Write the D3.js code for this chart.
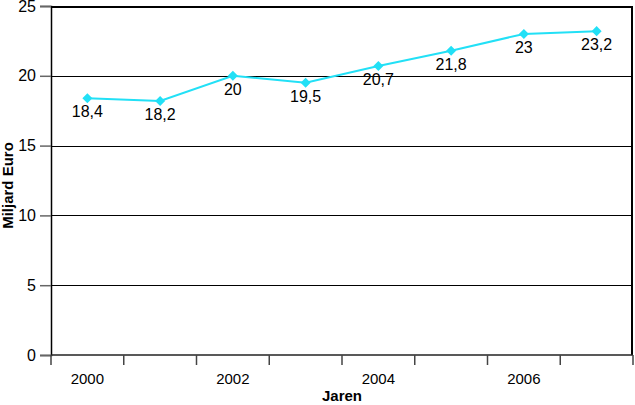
<!DOCTYPE html>
<html>
<head>
<meta charset="utf-8">
<script src="https://cdn.jsdelivr.net/npm/d3@7"></script>
<style>
  body { margin: 0; background: #fff; }
  text { font-family: "Liberation Sans", Arial, sans-serif; fill: #000; }
</style>
</head>
<body>
<div id="chart"></div>
<script>
const years = [2000, 2001, 2002, 2003, 2004, 2005, 2006, 2007];
const values = [18.4, 18.2, 20, 19.5, 20.7, 21.8, 23, 23.2];
const labels = ["18,4", "18,2", "20", "19,5", "20,7", "21,8", "23", "23,2"];
const yTicks = [0, 5, 10, 15, 20, 25];
const xTickLabels = [2000, 2002, 2004, 2006];

const margin = { top: 6, right: 2, bottom: 50, left: 51 };
const W = 635, H = 405;
const width = W - margin.left - margin.right;
const height = H - margin.top - margin.bottom;

const svg = d3.select("#chart").append("svg")
  .attr("width", W).attr("height", H);
const g = svg.append("g").attr("transform", `translate(${margin.left},${margin.top})`);

const x = d3.scaleBand().domain(years).range([0, width]);
const y = d3.scaleLinear().domain([0, 25]).range([height, 0]);

// gridlines
g.selectAll(".grid").data(yTicks.filter(d => d > 0)).enter().append("line")
  .attr("x1", 0).attr("x2", width)
  .attr("y1", d => y(d) + 0.5).attr("y2", d => y(d) + 0.5)
  .attr("stroke", "#000")
  .attr("shape-rendering", "crispEdges")
  .attr("stroke-width", d => d === 25 ? 2 : 1);

// right border
g.append("line").attr("x1", width - 1).attr("x2", width - 1)
  .attr("y1", y(25)).attr("y2", height)
  .attr("stroke", "#000").attr("stroke-width", 2);

// y axis
const yAxis = g.append("g")
  .call(d3.axisLeft(y).tickValues(yTicks).tickSize(11).tickPadding(4));
yAxis.select(".domain").attr("stroke", "#000").attr("stroke-width", 1.5);
yAxis.selectAll(".tick line").attr("stroke", "#666").attr("stroke-width", 1.5);
yAxis.selectAll("text").style("font-size", "16px");

// x axis: ticks at band boundaries
const bounds = years.map(d => x(d)).concat([width]);
const xAxis = g.append("g").attr("transform", `translate(0,${height})`);
xAxis.append("line").attr("x1", 0).attr("x2", width)
  .attr("stroke", "#222").attr("stroke-width", 1.5);
xAxis.selectAll(".tk").data(bounds).enter().append("line")
  .attr("x1", d => d).attr("x2", d => d)
  .attr("y1", 0).attr("y2", 10)
  .attr("stroke", "#444").attr("stroke-width", 1.5);
xAxis.selectAll(".lbl").data(xTickLabels).enter().append("text")
  .attr("x", d => x(d) + x.bandwidth() / 2)
  .attr("y", 29)
  .attr("text-anchor", "middle")
  .style("font-size", "15px")
  .text(d => d);

// line
const line = d3.line()
  .x((d, i) => x(years[i]) + x.bandwidth() / 2)
  .y(d => y(d));
g.append("path").datum(values)
  .attr("d", line)
  .attr("fill", "none")
  .attr("stroke", "#22e0f6")
  .attr("stroke-width", 2);

g.selectAll(".pt").data(values).enter().append("path")
  .attr("d", d3.symbol().type(d3.symbolDiamond2).size(64))
  .attr("transform", (d, i) => `translate(${x(years[i]) + x.bandwidth() / 2},${y(d)})`)
  .attr("fill", "#22e0f6");

g.selectAll(".vl").data(values).enter().append("text")
  .attr("x", (d, i) => x(years[i]) + x.bandwidth() / 2)
  .attr("y", d => y(d) + 19)
  .attr("text-anchor", "middle")
  .style("font-size", "16px")
  .text((d, i) => labels[i]);

// axis titles
svg.append("text")
  .attr("transform", `translate(13,${margin.top + height / 2 + 5}) rotate(-90)`)
  .attr("text-anchor", "middle")
  .style("font-size", "15px").style("font-weight", "bold")
  .text("Miljard Euro");
svg.append("text")
  .attr("x", margin.left + width / 2)
  .attr("y", 401)
  .attr("text-anchor", "middle")
  .style("font-size", "15px").style("font-weight", "bold")
  .text("Jaren");
</script>
</body>
</html>
